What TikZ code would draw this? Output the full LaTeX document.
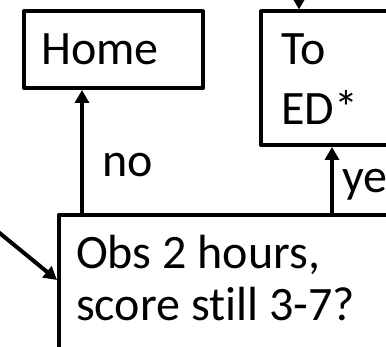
\documentclass[tikz,border=0pt]{standalone}
\usepackage{fontspec}
\setmainfont[Ligatures={NoCommon}]{Carlito}
\usetikzlibrary{arrows.meta, positioning}

\tikzset{
  box/.style={draw, line width=4pt, line join=round, rectangle, inner sep=0pt},
  flow/.style={line width=4pt, -{Triangle[length=13pt,width=14pt]}},
  txt/.style={font=\fontsize{48}{52}\selectfont, inner sep=0pt, align=left},
}

\begin{document}
\begin{tikzpicture}[x=1pt, y=-1pt]
  \useasboundingbox (0,0) rectangle (386,347);
  \clip (0,0) rectangle (386,347);

  % boxes
  \node[box, anchor=north west, minimum width=179pt, minimum height=76.5pt] (home) at (22,9.5) {};
  \node[box, anchor=north west, minimum width=200pt, minimum height=133.5pt] (toed) at (259,9.5) {};
  \node[box, anchor=north west, minimum width=400pt, minimum height=200pt] (obs) at (57,212.7) {};

  % texts (base = last line)
  \node[txt, anchor=base west] (homeTxt) at (41,65) {Home};
  \node[txt, anchor=base west] (toedTxt) at (281,125) {To\\[8pt]ED*};
  \node[txt, anchor=base west] (obsTxt) at (76,321) {Obs 2 hours,\\score still 3-7?};
  \node[txt, anchor=base west] (noTxt) at (102,177) {no};
  \node[txt, anchor=base west] (yesTxt) at (342,193) {yes};

  % connectors
  \coordinate (feed) at (299,-20);
  \coordinate (src) at (-20,217);
  \draw[flow] (feed) -- (feed |- toed.north);
  \draw[flow] (obs.north -| 82,0) -- (home.south -| 82,0);
  \draw[flow] (obs.north -| 332,0) -- (toed.south -| 332,0);
  \draw[flow] (src) -- (obs.west |- 0,280);
\end{tikzpicture}
\end{document}
